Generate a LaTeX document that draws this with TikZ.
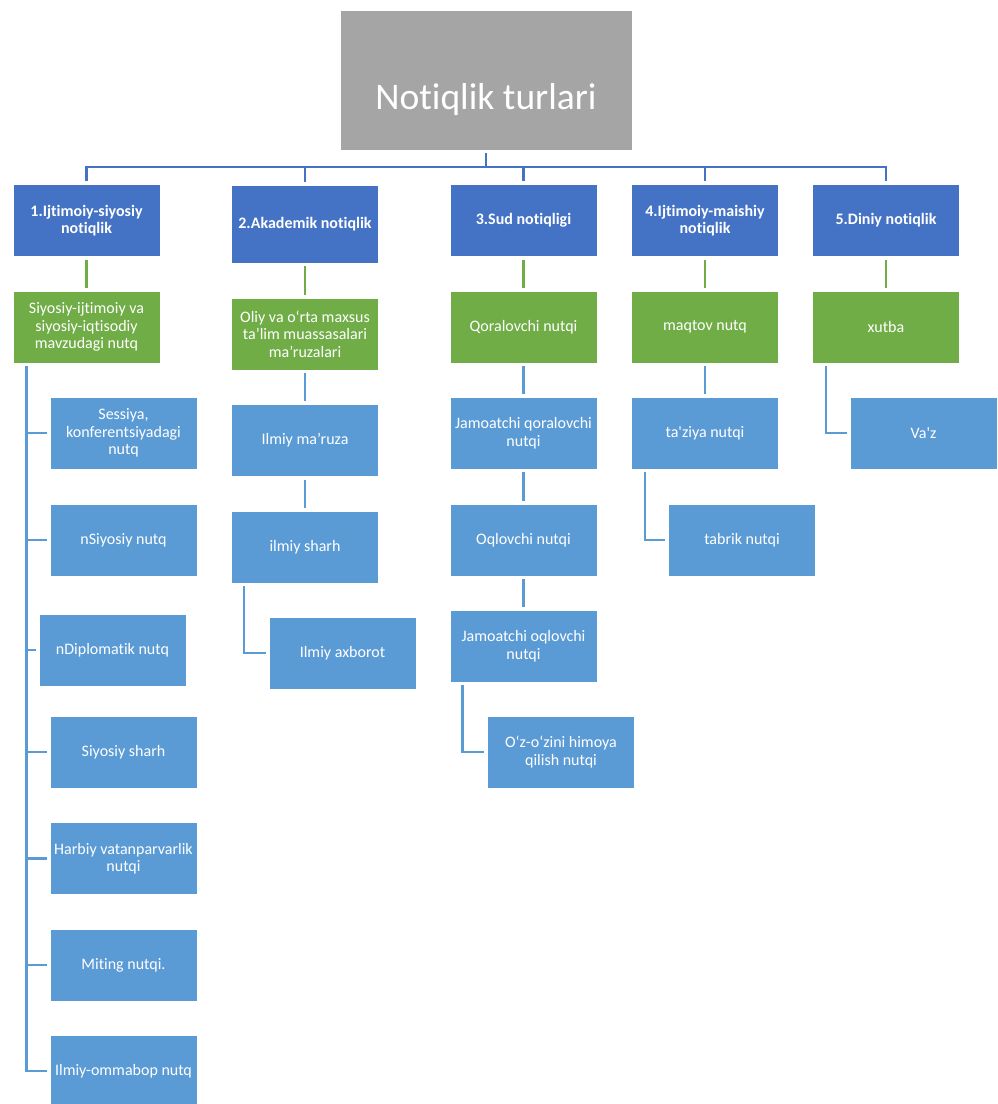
\documentclass[tikz,border=0pt]{standalone}
\usepackage{fontspec}
\setmainfont[Ligatures={TeX,NoCommon}]{Carlito}
\usepackage{tikz}

\definecolor{topgray}{HTML}{A5A5A5}
\definecolor{catblue}{HTML}{4472C4}
\definecolor{subgreen}{HTML}{70AD47}
\definecolor{itemblue}{HTML}{5B9BD5}

\tikzset{
  box/.style={rectangle, draw=white, line width=0.6pt, text=white, align=center,
    minimum width=147pt, minimum height=72pt, inner sep=2pt,
    font=\fontsize{16}{17.5}\selectfont},
  topbox/.style={box, fill=topgray, minimum width=292pt, minimum height=140pt,
    text height=58pt, text depth=0pt, font=\fontsize{37.5}{42}\selectfont},
  catbox/.style={box, fill=catblue, font=\bfseries\fontsize{16}{17.5}\selectfont},
  subbox/.style={box, fill=subgreen},
  itembox/.style={box, fill=itemblue},
  toplink/.style={draw=catblue, line width=2.5pt, shorten <=3pt, shorten >=3pt},
  sublink/.style={draw=subgreen, line width=2.5pt, shorten <=3pt, shorten >=3pt},
  itemlink/.style={draw=itemblue, line width=2.5pt, shorten <=3pt, shorten >=3pt},
}

\begin{document}
\begin{tikzpicture}[x=1pt,y=-1pt,line join=miter]
  \clip (0,0) rectangle (997,1104);
  \fill[white] (0,0) rectangle (997,1104);

  % top
  \node[topbox] (top) at (486,80) {Notiqlik turlari};
  \coordinate (bus) at (486,167);

  % categories
  \node[catbox] (k1) at (86.5,220.5) {1.Ijtimoiy-siyosiy\\notiqlik};
  \node[catbox, minimum height=78pt] (k2) at (305,224) {2.Akademik notiqlik};
  \node[catbox] (k3) at (523.5,220.5) {3.Sud notiqligi};
  \node[catbox] (k4) at (705,220.5) {4.Ijtimoiy-maishiy\\notiqlik};
  \node[catbox] (k5) at (886,220.5) {5.Diniy notiqlik};

  % green level
  \node[subbox] (g1) at (86.5,327) {Siyosiy-ijtimoiy va\\siyosiy-iqtisodiy\\mavzudagi nutq};
  \node[subbox] (g2) at (305,334) {Oliy va o‘rta maxsus\\ta’lim muassasalari\\ma’ruzalari};
  \node[subbox] (g3) at (523.5,327) {Qoralovchi nutqi};
  \node[subbox] (g4) at (705,327) {maqtov nutq};
  \node[subbox] (g5) at (886,327) {xutba};

  % column 1
  \node[itembox] (i1) at (123.5,433) {Sessiya,\\konferentsiyadagi\\nutq};
  \node[itembox] (i2) at (123.5,540) {nSiyosiy nutq};
  \node[itembox] (i3) at (112.5,650) {nDiplomatik nutq};
  \node[itembox] (i4) at (123.5,752) {Siyosiy sharh};
  \node[itembox] (i5) at (123.5,858.5) {Harbiy vatanparvarlik\\nutqi};
  \node[itembox] (i6) at (123.5,965) {Miting nutqi.};
  \node[itembox] (i7) at (123.5,1071) {Ilmiy-ommabop nutq};

  % column 2
  \node[itembox] (a1) at (305,440.5) {Ilmiy ma’ruza};
  \node[itembox] (a2) at (305,547) {ilmiy sharh};
  \node[itembox] (a3) at (342.5,653) {Ilmiy axborot};

  % column 3
  \node[itembox] (s1) at (523.5,433) {Jamoatchi qoralovchi\\nutqi};
  \node[itembox] (s2) at (523.5,540) {Oqlovchi nutqi};
  \node[itembox] (s3) at (523.5,646) {Jamoatchi oqlovchi\\nutqi};
  \node[itembox] (s4) at (561,752) {O‘z-o‘zini himoya\\qilish nutqi};

  % column 4
  \node[itembox] (m1) at (705,433) {ta\textquotesingle ziya nutqi};
  \node[itembox] (m2) at (742,540) {tabrik nutqi};

  % column 5
  \node[itembox] (d1) at (923.5,433) {Va\textquotesingle z};

  % connectors
  \draw[toplink, shorten >=0pt] (top.south) -- (bus);
  \draw[toplink] (k1.north) |- (k5.north |- bus) -- (k5.north);
  \foreach \k in {k2,k3,k4}
    \draw[toplink, shorten <=0pt] (\k.north |- bus) -- (\k.north);

  \foreach \k/\g in {k1/g1,k2/g2,k3/g3,k4/g4,k5/g5}
    \draw[sublink] (\k) -- (\g);

  \coordinate (c1) at ([xshift=14pt]g1.south west);
  \draw[itemlink] (c1) |- (i7.west);
  \foreach \i in {i1,i2,i3,i4,i5,i6}
    \draw[itemlink, shorten <=0pt] (c1 |- \i.west) -- (\i.west);

  \draw[itemlink] (g2) -- (a1);
  \draw[itemlink] (a1) -- (a2);
  \draw[itemlink] ([xshift=13pt]a2.south west) |- (a3.west);

  \draw[itemlink] (g3) -- (s1);
  \draw[itemlink] (s1) -- (s2);
  \draw[itemlink] (s2) -- (s3);
  \draw[itemlink] ([xshift=13pt]s3.south west) |- (s4.west);

  \draw[itemlink] (g4) -- (m1);
  \draw[itemlink] ([xshift=14pt]m1.south west) |- (m2.west);

  \draw[itemlink] ([xshift=14pt]g5.south west) |- (d1.west);
\end{tikzpicture}
\end{document}
